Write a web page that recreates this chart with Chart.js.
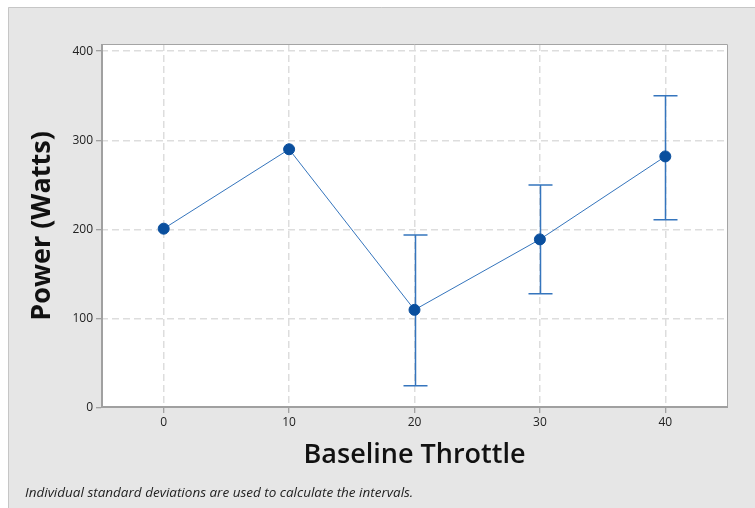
<!DOCTYPE html>
<html>
<head>
<meta charset="utf-8">
<script src="https://cdn.jsdelivr.net/npm/chart.js"></script>
<style>
  html, body { margin: 0; padding: 0; background: #e6e6e6; overflow: hidden; }
  #wrap { width: 755px; height: 508px; }
</style>
</head>
<body>
<div id="wrap"><canvas id="chart" width="755" height="508"></canvas></div>
<script>
// Interval plot data
const throttle = [0, 10, 20, 30, 40];
const powerMean = [201, 290, 110, 189, 282];
const intervalLow = [null, null, 25, 128, 211];
const intervalHigh = [null, null, 194, 250, 350];
const xTicks = [0, 10, 20, 30, 40];
const yTicks = [0, 100, 200, 300, 400];
const footnote = "Individual standard deviations are used to calculate the intervals.";

const blue = "#0a4f9e";
const lineBlue = "#3575bd";

// Gray panel, plot frame and footnote
const backdrop = {
  id: "backdrop",
  beforeDraw(chart) {
    const { ctx, scales: { x, y } } = chart;
    ctx.save();
    ctx.fillStyle = "#ffffff";
    ctx.fillRect(0, 0, 755, 7);
    ctx.fillRect(0, 0, 8, 508);
    ctx.strokeStyle = "#c6c6c6";
    ctx.lineWidth = 1;
    ctx.beginPath();
    ctx.moveTo(8.5, 508);
    ctx.lineTo(8.5, 7.5);
    ctx.lineTo(755, 7.5);
    ctx.stroke();
    ctx.fillStyle = "#ffffff";
    ctx.fillRect(x.left, y.top, x.right - x.left, y.bottom - y.top);
    ctx.restore();
  },
  afterDraw(chart) {
    const { ctx, scales: { x, y } } = chart;
    ctx.save();
    ctx.strokeStyle = "#a4a4a4";
    ctx.lineWidth = 1;
    ctx.beginPath();
    ctx.moveTo(x.left + 0.5, y.bottom);
    ctx.lineTo(x.left + 0.5, y.top + 0.5);
    ctx.lineTo(x.right - 0.5, y.top + 0.5);
    ctx.lineTo(x.right - 0.5, y.bottom);
    ctx.stroke();
    ctx.lineWidth = 2;
    ctx.strokeStyle = "#a0a0a0";
    ctx.beginPath();
    ctx.moveTo(x.left + 1, y.top);
    ctx.lineTo(x.left + 1, y.bottom - 1);
    ctx.lineTo(x.right, y.bottom - 1);
    ctx.stroke();
    ctx.font = "italic 13.5px 'Open Sans'";
    ctx.fillStyle = "#222";
    ctx.textBaseline = "alphabetic";
    ctx.fillText(footnote, 25, 497);
    ctx.restore();
  }
};

// Error bars drawn through the scales
const errorBars = {
  id: "errorBars",
  beforeDatasetsDraw(chart) {
    const { ctx, scales: { x, y } } = chart;
    ctx.save();
    ctx.strokeStyle = lineBlue;
    ctx.lineWidth = 1.5;
    throttle.forEach((t, i) => {
      if (intervalLow[i] == null) return;
      const px = Math.round(x.getPixelForValue(t)) + 0.5;
      const lo = y.getPixelForValue(intervalLow[i]);
      const hi = y.getPixelForValue(intervalHigh[i]);
      ctx.beginPath();
      ctx.moveTo(px, lo);
      ctx.lineTo(px, hi);
      ctx.moveTo(px - 12, lo);
      ctx.lineTo(px + 12, lo);
      ctx.moveTo(px - 12, hi);
      ctx.lineTo(px + 12, hi);
      ctx.stroke();
    });
    ctx.restore();
  }
};

const ctx = document.getElementById("chart").getContext("2d");
new Chart(ctx, {
  type: "line",
  data: {
    datasets: [{
      data: throttle.map((t, i) => ({ x: t, y: powerMean[i] })),
      borderColor: lineBlue,
      borderWidth: 1,
      pointBackgroundColor: blue,
      pointBorderColor: blue,
      pointRadius: 5.5,
      tension: 0
    }]
  },
  options: {
    responsive: false,
    animation: false,
    layout: { padding: { left: 0, top: 44, right: 27, bottom: 0 } },
    plugins: { legend: { display: false }, tooltip: { enabled: false } },
    scales: {
      x: {
        type: "linear",
        min: -5,
        max: 45,
        afterBuildTicks: (s) => { s.ticks = xTicks.map((v) => ({ value: v })); },
        afterFit: (s) => { s.height = 100; },
        grid: {
          color: "#dddddd",
          lineWidth: 1.5,
          tickBorderDash: [],
          tickColor: "#8a8a8a",
          tickWidth: 1,
          tickLength: 5
        },
        border: { display: false, dash: [7, 4] },
        ticks: { color: "#222", font: { family: "'Open Sans'", size: 12 }, padding: 2 },
        title: {
          display: true,
          text: "Baseline Throttle",
          color: "#111",
          font: { family: "'Open Sans'", size: 27, weight: "600" },
          padding: { top: 0, bottom: 36 }
        }
      },
      y: {
        min: 0,
        max: 408,
        afterBuildTicks: (s) => { s.ticks = yTicks.map((v) => ({ value: v })); },
        afterFit: (s) => { s.width = 101; },
        grid: {
          color: (c) => (c.tick && c.tick.value === 0 ? "rgba(0,0,0,0)" : "#dddddd"),
          lineWidth: 1.5,
          tickBorderDash: [],
          tickColor: "#8a8a8a",
          tickWidth: 1,
          tickLength: 5
        },
        border: { display: false, dash: [7, 4] },
        ticks: { color: "#222", font: { family: "'Open Sans'", size: 12 }, padding: 3 },
        title: {
          display: true,
          text: "Power (Watts)",
          color: "#111",
          font: { family: "'Open Sans'", size: 27, weight: "bold" },
          padding: { top: 26, bottom: 0 }
        }
      }
    }
  },
  plugins: [backdrop, errorBars]
});
</script>
</body>
</html>
